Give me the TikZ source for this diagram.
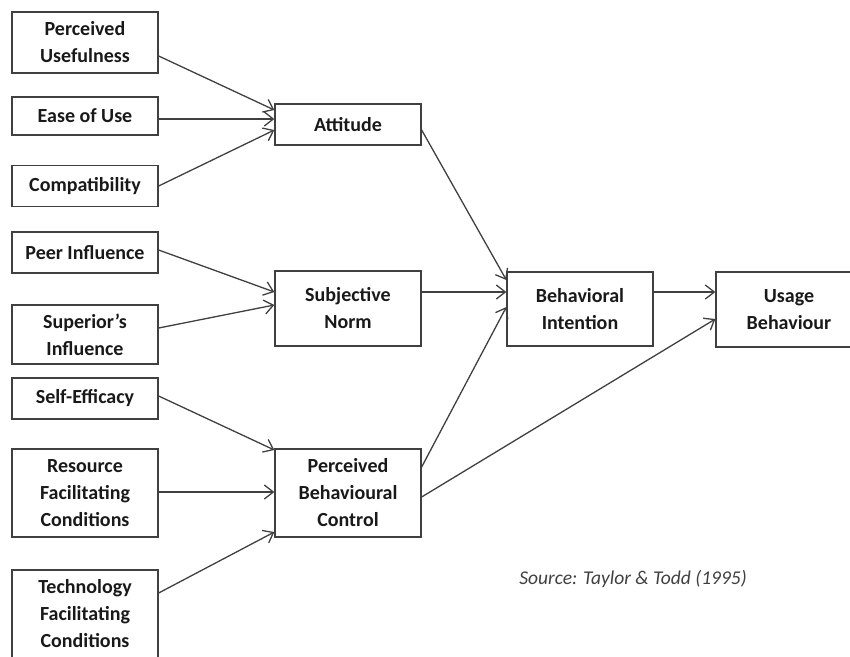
\documentclass[tikz,border=0pt]{standalone}
\usepackage{fontspec}
\setmainfont{Carlito}
\usetikzlibrary{positioning,arrows.meta}

\begin{document}
\begin{tikzpicture}[x=1pt,y=-1pt,>={Straight Barb[length=9pt,width=14pt]},
  line width=1.3pt,draw=black!75,
  box/.style={rectangle,draw=black!75,line width=1.3pt,minimum width=146pt,
    align=center,inner sep=0pt,text=black!90,
    font=\fontsize{20}{27}\selectfont\bfseries}]
   \useasboundingbox (0,0) rectangle (850,656);
   \clip (0,0) rectangle (850,656);
   % inputs
   \node[box,minimum height=61pt] (pu)   at (85,42.5)  {Perceived\\Usefulness};
   \node[box,minimum height=38pt] (eou)  at (85,116)   {Ease of Use};
   \node[box,minimum height=41pt] (comp) at (85,186)   {Compatibility};
   \node[box,minimum height=41pt] (peer) at (85,252.5) {Peer Influence};
   \node[box,minimum height=59pt] (sup)  at (85,334.5) {Superior's\\Influence};
   \node[box,minimum height=41pt] (self) at (85,398.5) {Self-Efficacy};
   \node[box,minimum height=88pt] (res)  at (85,493)   {Resource\\Facilitating\\Conditions};
   \node[box,minimum height=88pt] (tech) at (85,614)   {Technology\\Facilitating\\Conditions};
   % constructs
   \node[box,minimum height=41pt] (att)  at (348,124.5) {Attitude};
   \node[box,minimum height=75pt] (sn)   at (348,308.5) {Subjective\\Norm};
   \node[box,minimum height=88pt] (pbc)  at (348,493)   {Perceived\\Behavioural\\Control};
   \node[box,minimum height=74pt] (bi)   at (580,309)   {Behavioral\\Intention};
   \node[box,minimum height=75pt] (ub)   at (789,309.5) {Usage\\Behaviour};
   \node[font=\fontsize{19.5}{24}\selectfont\itshape,text=black!75] (src) at (633,579)
        {Source: Taylor \& Todd (1995)};
    \path[->]
    ([yshift=-13.5pt]pu.east) edge ([yshift=14.5pt]att.west)
    ([yshift=-3pt]eou.east)   edge ([yshift=5.5pt]att.west)
    (comp.east)               edge ([yshift=-5.5pt]att.west)
    ([yshift=2.5pt]peer.east) edge ([yshift=16.5pt]sn.west)
    ([yshift=6.5pt]sup.east)  edge ([yshift=3.5pt]sn.west)
    ([yshift=2.5pt]self.east) edge ([yshift=43pt]pbc.west)
    ([yshift=1pt]res.east)    edge ([yshift=1pt]pbc.west)
    ([yshift=21pt]tech.east)  edge ([yshift=-39pt]pbc.west)
    ([yshift=-5.5pt]att.east) edge ([yshift=29pt]bi.west)
    ([yshift=16.5pt]sn.east)  edge ([yshift=17pt]bi.west)
    ([yshift=26pt]pbc.east)   edge ([yshift=2pt]bi.west)
    ([yshift=-4pt]pbc.east)   edge ([yshift=-9.5pt]ub.west)
    ([yshift=17pt]bi.east)    edge ([yshift=17.5pt]ub.west);
\end{tikzpicture}
\end{document}
